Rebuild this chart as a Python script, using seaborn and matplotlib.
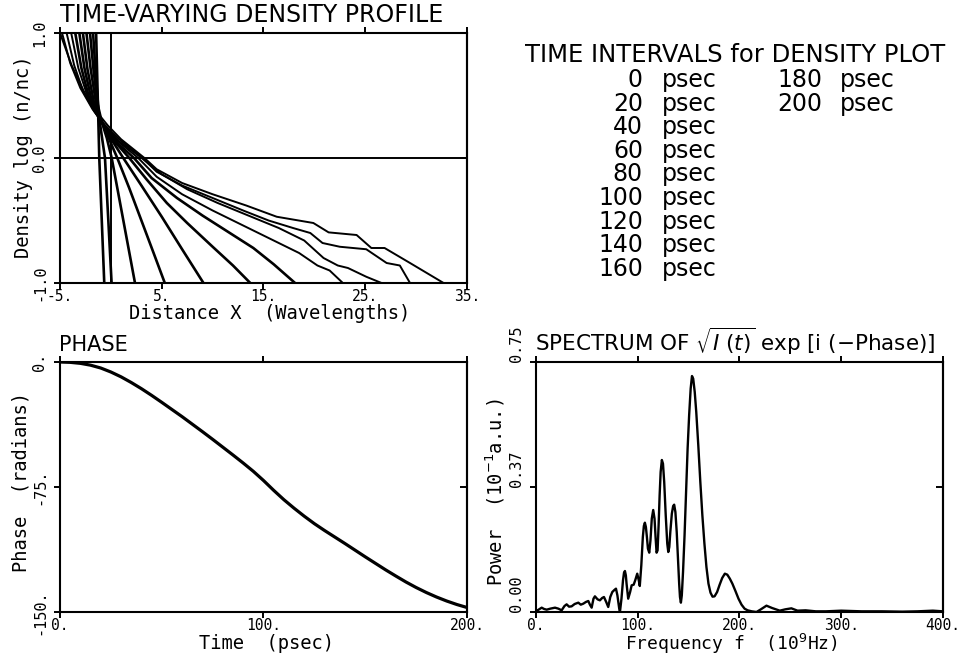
import matplotlib
matplotlib.use("Agg")
import matplotlib.pyplot as plt
import seaborn as sns

# ---------------- data ----------------
# density profiles  log(n/nc) vs distance x (wavelengths), one per time
dens_x_000 = [-1.45, -1.14, -0.65]
dens_y_000 = [1.0, 0.0, -1.0]
dens_x_020 = [-1.75, -1.45, -1.15, -0.58, -0.25, 0.07]
dens_y_020 = [1.0, 0.62, 0.32, 0.0, -0.5, -1.0]
dens_x_040 = [-2.05, -1.7, -1.3, -0.9, -0.4, 0.08, 0.7, 1.5, 2.37]
dens_y_040 = [1.0, 0.7, 0.43, 0.29, 0.16, 0.0, -0.27, -0.62, -1.0]
dens_x_060 = [-2.4, -2.0, -1.5, -1.1, -0.5, 0.1, 0.63, 1.8, 3.0, 4.2, 5.3]
dens_y_060 = [1.0, 0.72, 0.46, 0.33, 0.22, 0.1, 0.0, -0.24, -0.5, -0.76, -1.0]
dens_x_080 = [-2.75, -2.3, -1.7, -1.25, -0.6, 0.2, 1.22, 3.0, 5.0, 7.0, 9.1]
dens_y_080 = [1.0, 0.71, 0.46, 0.34, 0.25, 0.13, 0.0, -0.22, -0.47, -0.73, -1.0]
dens_x_100 = [-3.1, -2.6, -2.0, -1.4, -0.7, 0.4, 1.81, 3.5, 5.5, 7.5, 10.0, 12.0, 13.7]
dens_y_100 = [1.0, 0.72, 0.5, 0.36, 0.26, 0.13, 0.0, -0.17, -0.36, -0.52, -0.71, -0.86, -1.0]
dens_x_120 = [-3.5, -2.9, -2.2, -1.45, -0.7, 0.5, 2.27, 4.0, 6.5, 9.0, 11.5, 14.0, 16.0, 18.1]
dens_y_120 = [1.0, 0.72, 0.5, 0.36, 0.26, 0.13, 0.0, -0.16, -0.32, -0.46, -0.59, -0.72, -0.85, -1.0]
dens_x_140 = [-3.9, -3.2, -2.4, -1.5, -0.7, 0.6, 2.69, 4.5, 7.0, 10.0, 13.0, 16.0, 18.5, 20.3, 21.5, 22.8]
dens_y_140 = [1.0, 0.72, 0.52, 0.37, 0.27, 0.14, 0.0, -0.15, -0.29, -0.42, -0.54, -0.66, -0.76, -0.86, -0.9, -1.0]
dens_x_160 = [-4.35, -3.6, -2.7, -1.6, -0.7, 0.7, 3.03, 5.0, 7.5, 10.5, 13.5, 16.5, 19.0, 20.9, 22.3, 23.3, 25.1, 26.6]
dens_y_160 = [1.0, 0.74, 0.53, 0.37, 0.27, 0.14, 0.0, -0.13, -0.25, -0.36, -0.46, -0.56, -0.66, -0.8, -0.86, -0.88, -0.95, -1.0]
dens_x_180 = [-4.8, -4.0, -3.0, -1.8, -0.8, 0.8, 3.1, 4.5, 7.0, 10.0, 13.0, 15.5, 17.9, 19.6, 20.8, 22.5, 25.1, 27.1, 28.4, 29.4]
dens_y_180 = [1.0, 0.76, 0.56, 0.39, 0.28, 0.15, 0.0, -0.11, -0.22, -0.32, -0.42, -0.5, -0.56, -0.6, -0.68, -0.71, -0.73, -0.84, -0.86, -1.0]
dens_x_200 = [-5.0, -3.85, -2.7, -1.4, -0.3, 1.0, 3.3, 4.5, 7.0, 10.0, 13.3, 16.3, 19.9, 21.4, 24.15, 25.6, 26.9, 29.4, 32.7]
dens_y_200 = [1.0, 0.74, 0.54, 0.37, 0.26, 0.15, 0.0, -0.09, -0.2, -0.29, -0.38, -0.47, -0.52, -0.595, -0.616, -0.72, -0.72, -0.84, -1.0]

dens_profiles = [
    (dens_x_000, dens_y_000), (dens_x_020, dens_y_020), (dens_x_040, dens_y_040),
    (dens_x_060, dens_y_060), (dens_x_080, dens_y_080), (dens_x_100, dens_y_100),
    (dens_x_120, dens_y_120), (dens_x_140, dens_y_140), (dens_x_160, dens_y_160),
    (dens_x_180, dens_y_180), (dens_x_200, dens_y_200),
]

# time intervals listed in the legend block
legend_times_col1 = [0, 20, 40, 60, 80, 100, 120, 140, 160]
legend_times_col2 = [180, 200]

# phase vs time
phase_t = [0, 5, 10, 15, 20, 25, 30, 35, 40, 45, 50, 55, 60, 65, 70, 75, 80, 85, 90,
           95, 100, 105, 110, 115, 120, 125, 130, 135, 140, 145, 150, 155, 160, 165,
           170, 175, 180, 185, 190, 195, 200]
phase_val = [0.0, -0.2, -0.8, -1.9, -3.6, -6.0, -8.9, -12.3, -16.0, -20.0, -24.2,
             -28.5, -32.8, -37.3, -41.8, -46.4, -51.1, -55.8, -60.6, -65.6, -71.1,
             -77.0, -82.6, -87.7, -92.5, -97.0, -101.1, -105.0, -108.9, -112.9, -116.9,
             -120.8, -124.7, -128.4, -132.0, -135.3, -138.3, -141.0, -143.4, -145.5,
             -147.3]

# spectrum
spec_f = [0, 2, 5.6, 8, 10.5, 14, 18.7, 22, 25.2, 28, 30.1, 32.5, 35, 38, 41.6, 44,
          46.5, 49, 51.4, 53, 54.7, 56.5, 57.9, 60.5, 62.8, 65, 66.8, 69, 71, 73, 75,
          77, 78.6, 80, 80.9, 81.8, 82.5, 84, 85.5, 86.5, 87.4, 88.3, 89, 90.6, 92.5,
          94, 96, 97.5, 99.5, 101, 102, 103.5, 105, 106, 107, 108, 109, 110, 111.3,
          112.5, 113.8, 115.2, 116.5, 117.5, 118.5, 119.5, 120.5, 121.5, 122.5, 123.7,
          124.8, 126, 127.5, 129, 130, 131, 132, 133.5, 134.8, 135.8, 137, 138.3,
          139.5, 140.7, 141.5, 142.4, 143.3, 144.5, 146, 147.5, 149, 150.5, 152, 153.3,
          154.5, 156, 157.5, 159.5, 161.5, 163.5, 165.5, 167.5, 169.5, 171.5, 173.5,
          175.5, 178, 180.5, 183, 185.6, 188, 190.5, 193, 196, 199, 202, 205, 208,
          212, 216.7, 221, 226.5, 232, 239.6, 245, 251, 257, 265, 275, 285, 300, 320,
          340, 360, 375, 390, 400]
spec_p = [0.004, 0.006, 0.013, 0.009, 0.007, 0.010, 0.013, 0.010, 0.005, 0.018, 0.023,
          0.016, 0.017, 0.024, 0.028, 0.022, 0.025, 0.030, 0.033, 0.022, 0.013, 0.040,
          0.047, 0.038, 0.035, 0.042, 0.045, 0.030, 0.015, 0.045, 0.060, 0.066, 0.070,
          0.050, 0.030, 0.010, 0.000, 0.040, 0.095, 0.118, 0.123, 0.110, 0.085, 0.040,
          0.060, 0.080, 0.082, 0.095, 0.115, 0.095, 0.078, 0.140, 0.225, 0.258, 0.268,
          0.255, 0.225, 0.190, 0.178, 0.215, 0.280, 0.306, 0.280, 0.225, 0.178, 0.185,
          0.260, 0.350, 0.420, 0.456, 0.445, 0.390, 0.290, 0.205, 0.180, 0.195, 0.240,
          0.295, 0.318, 0.322, 0.300, 0.240, 0.160, 0.085, 0.045, 0.028, 0.050, 0.120,
          0.230, 0.360, 0.490, 0.590, 0.670, 0.708, 0.700, 0.660, 0.600, 0.500, 0.390,
          0.290, 0.206, 0.135, 0.085, 0.058, 0.046, 0.047, 0.060, 0.082, 0.102, 0.115,
          0.112, 0.100, 0.085, 0.063, 0.040, 0.022, 0.010, 0.005, 0.002, 0.000, 0.008,
          0.019, 0.012, 0.004, 0.008, 0.011, 0.004, 0.005, 0.002, 0.002, 0.004, 0.002,
          0.002, 0.001, 0.002, 0.004, 0.002]

# ticks
dens_xticks = [-5, 5, 15, 25, 35]
dens_xticklabels = ["-5.", "5.", "15.", "25.", "35."]
dens_yticks = [-1.0, 0.0, 1.0]
dens_yticklabels = ["-1.0", "0.0", "1.0"]
phase_xticks = [0, 100, 200]
phase_xticklabels = ["0.", "100.", "200."]
phase_yticks = [-150, -75, 0]
phase_yticklabels = ["-150.", "-75.", "0."]
spec_xticks = [0, 100, 200, 300, 400]
spec_xticklabels = ["0.", "100.", "200.", "300.", "400."]
spec_yticks = [0.0, 0.375, 0.75]
spec_yticklabels = ["0.00", "0.37", "0.75"]

# ---------------- style ----------------
sns.set_style("ticks")
plt.rcParams["font.family"] = ["DejaVu Sans"]
plt.rcParams["mathtext.fontset"] = "dejavusans"
plt.rcParams["text.color"] = "black"
plt.rcParams["axes.labelcolor"] = "black"
plt.rcParams["xtick.color"] = "black"
plt.rcParams["ytick.color"] = "black"
MONO = "DejaVu Sans Mono"
SANS = "DejaVu Sans"

W, H = 978, 655
fig = plt.figure(figsize=(W / 100, H / 100), dpi=100)
fig.patch.set_facecolor("white")


def px_axes(l, t, r, b):
    return fig.add_axes([l / W, 1 - b / H, (r - l) / W, (b - t) / H])


def ftext(x, y, s, **kw):
    return fig.text(x / W, 1 - y / H, s, color="black", **kw)


def style(ax, xlim, ylim, xt, xtl, yt, ytl, yva):
    ax.set_xlim(xlim)
    ax.set_ylim(ylim)
    ax.set_xticks(xt)
    ax.set_xticklabels(xtl, family=MONO, fontsize=10.5)
    ax.set_yticks(yt)
    ax.set_yticklabels(ytl, family=MONO, fontsize=11, rotation=90, va=yva)
    ax.set_xlabel("")
    ax.set_ylabel("")
    for s in ax.spines.values():
        s.set_visible(True)
        s.set_linewidth(1.5)
        s.set_color("black")
    ax.tick_params(axis="x", bottom=True, top=True, direction="out", length=4,
                   width=1.4, pad=0, colors="black")
    ax.tick_params(axis="y", left=True, right=False, direction="out", length=4,
                   width=1.4, pad=5, colors="black")
    sec = ax.secondary_yaxis("right")
    sec.set_yticks(yt)
    sec.set_yticklabels([])
    sec.tick_params(direction="in", length=5, width=1.4, colors="black")
    sec.spines["right"].set_linewidth(1.5)
    ax.set_facecolor("white")


# ---------------- density panel ----------------
ax1 = px_axes(60, 33, 467, 283)
for i, (xs, ys) in enumerate(dens_profiles):
    lw = 1.9 if i < 7 else 1.4
    sns.lineplot(x=xs, y=ys, sort=False, estimator=None, color="black", lw=lw, ax=ax1)
ax1.axhline(0.0, color="black", lw=1.4)
ax1.axvline(0.0, color="black", lw=1.4)
style(ax1, (-5, 35), (-1, 1), dens_xticks, dens_xticklabels, dens_yticks,
      dens_yticklabels, "center")

ftext(60, 22, "TIME-VARYING DENSITY PROFILE", fontsize=17, family=SANS, va="baseline")
ftext(270, 319, "Distance X  (Wavelengths)", fontsize=13.5, family=MONO,
      ha="center", va="baseline")
ftext(24, 157, "Density log (n/nc)", fontsize=13.5, family=MONO, rotation=90,
      ha="center", va="center")

# ---------------- legend block ----------------
LEG_FS = 17
ftext(525, 62, "TIME INTERVALS for DENSITY PLOT", fontsize=LEG_FS + 0.5, family=SANS,
      va="baseline")
for i, t in enumerate(legend_times_col1):
    yb = 87 + 23.6 * i
    ftext(643, yb, f"{t}", fontsize=LEG_FS, family=SANS, ha="right", va="baseline")
    ftext(662, yb, "psec", fontsize=LEG_FS, family=SANS, ha="left", va="baseline")
for i, t in enumerate(legend_times_col2):
    yb = 87 + 23.6 * i
    ftext(822, yb, f"{t}", fontsize=LEG_FS, family=SANS, ha="right", va="baseline")
    ftext(840, yb, "psec", fontsize=LEG_FS, family=SANS, ha="left", va="baseline")

# ---------------- phase panel ----------------
ax2 = px_axes(60, 362, 467, 612)
sns.lineplot(x=phase_t, y=phase_val, sort=False, estimator=None, color="black",
             lw=2.3, ax=ax2)
style(ax2, (0, 200), (-150, 0), phase_xticks, phase_xticklabels, phase_yticks,
      phase_yticklabels, "center")
ftext(59, 351, "PHASE", fontsize=15, family=SANS, va="baseline")
ftext(267, 649, "Time  (psec)", fontsize=13.5, family=MONO, ha="center", va="baseline")
ftext(21, 482, "Phase  (radians)", fontsize=13.5, family=MONO, rotation=90,
      ha="center", va="center")

# ---------------- spectrum panel ----------------
ax3 = px_axes(536, 362, 943, 612)
sns.lineplot(x=spec_f, y=spec_p, sort=False, estimator=None, color="black",
             lw=1.7, ax=ax3)
style(ax3, (0, 400), (0, 0.75), spec_xticks, spec_xticklabels, spec_yticks,
      spec_yticklabels, "bottom")
ftext(535, 351, r"SPECTRUM OF $\sqrt{I\ (t)}$ exp [i (−Phase)]", fontsize=15.5,
      family=SANS, va="baseline")
ftext(731, 650, r"Frequency f  (10$^{9}$Hz)", fontsize=13, family=MONO,
      ha="center", va="baseline")
ftext(495, 492, r"Power  (10$^{-1}$a.u.)", fontsize=13.5, family=MONO, rotation=90,
      ha="center", va="center")

fig.savefig("out.png", dpi=100, facecolor="white")
